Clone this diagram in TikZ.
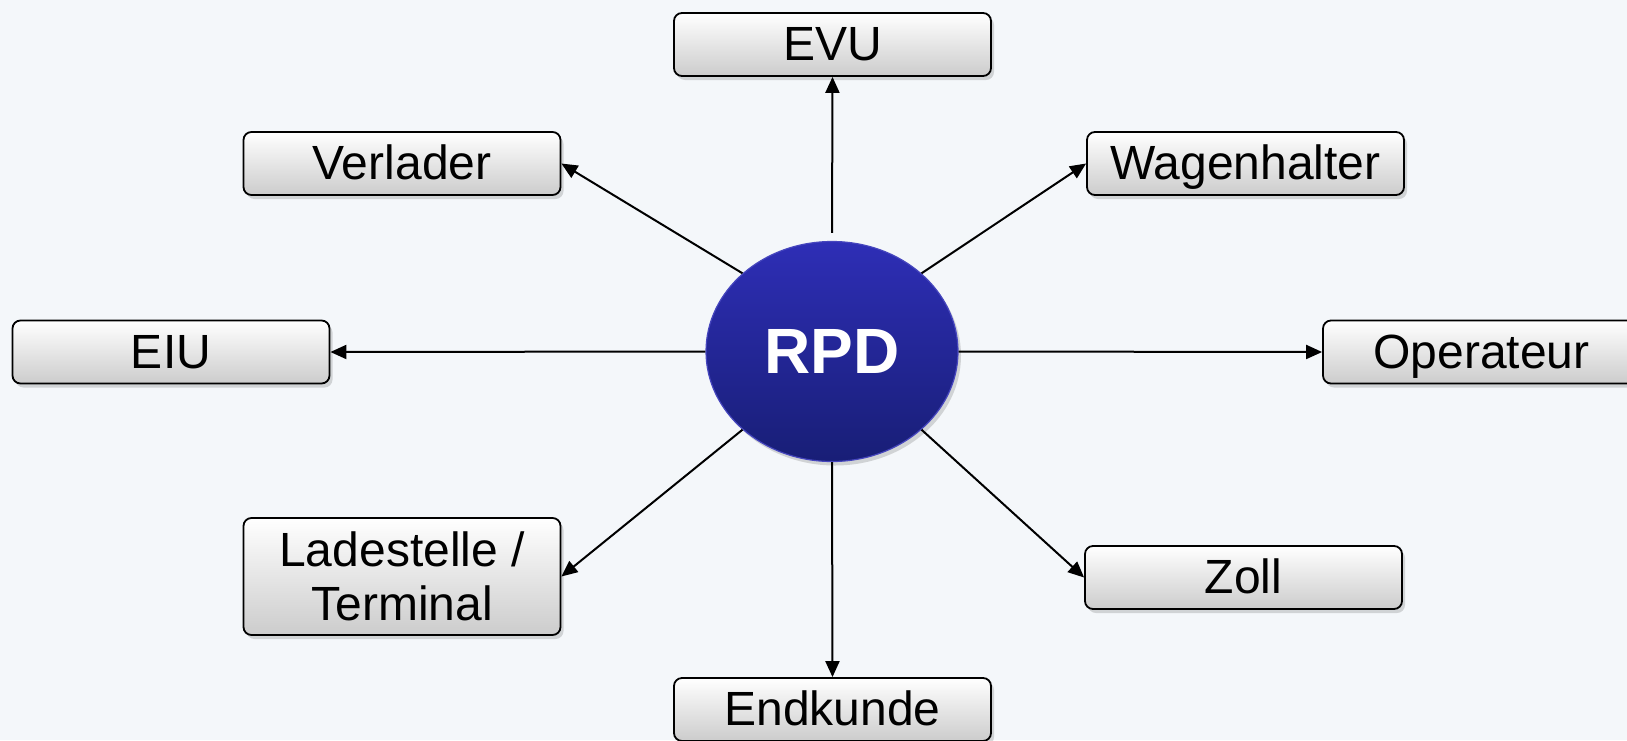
\documentclass[tikz,border=0pt]{standalone}
\usepackage{fontspec}
\setmainfont{Liberation Sans}
\usetikzlibrary{shapes.geometric,shadows,arrows.meta}

\definecolor{bgblue}{RGB}{244,247,250}
\definecolor{rpdtop}{RGB}{46,46,182}
\definecolor{rpdbot}{RGB}{24,30,118}
\definecolor{rpdrim}{RGB}{70,70,190}
\definecolor{boxbot}{RGB}{204,204,204}

\tikzset{
  party/.style={draw=black, line width=0.9pt, rounded corners=4pt,
    minimum width=158.5pt, minimum height=31.5pt, inner sep=0pt,
    top color=white, bottom color=boxbot, align=center,
    drop shadow={shadow xshift=1.5pt, shadow yshift=-2pt, opacity=0.3},
    font=\fontsize{24}{27}\selectfont},
  oneline/.style={text height=18pt, text depth=2pt},
  hub/.style={ellipse, minimum width=126pt, minimum height=110pt, inner sep=0pt,
    top color=rpdtop, bottom color=rpdbot, draw=rpdrim, line width=0.6pt,
    drop shadow={shadow xshift=1.5pt, shadow yshift=-2pt, opacity=0.3},
    text=white, font=\bfseries\fontsize{32}{36}\selectfont},
  link/.style={line width=1pt, -{Triangle[length=8pt,width=7pt]}}
}

\begin{document}
\begin{tikzpicture}[x=0.5pt,y=-0.5pt]

\fill[bgblue] (0,0) rectangle (1627,740);
\useasboundingbox (0,0) rectangle (1627,740);

% centre
\node[hub] (rpd) at (832,351.5) {RPD};

% partners
\node[party, oneline] (evu) at (832.5,44.5) {EVU};
\node[party, oneline] (verl) at (402,163.5) {Verlader};
\node[party, oneline] (wag) at (1245.5,163.5) {Wagenhalter};
\node[party, oneline] (eiu) at (171,352) {EIU};
\node[party, oneline] (oper) at (1481.5,352) {Operateur};
\node[party, minimum height=58.5pt] (lade) at (402,576.5) {Ladestelle /\\Terminal};
\node[party, oneline] (zoll) at (1243.5,577.5) {Zoll};
\node[party, oneline] (endk) at (832.5,709.5) {Endkunde};

% links
\draw[link, shorten <=4pt] (rpd.north) -- (evu.south);
\draw[link] (rpd.north west) -- (verl.east);
\draw[link] (rpd.north east) -- (wag.west);
\draw[link] (rpd.west) -- (eiu.east);
\draw[link] (rpd.east) -- (oper.west);
\draw[link] (rpd.south west) -- (lade.east);
\draw[link] (rpd.south east) -- (zoll.west);
\draw[link] (rpd.south) -- (endk.north);

\end{tikzpicture}
\end{document}
